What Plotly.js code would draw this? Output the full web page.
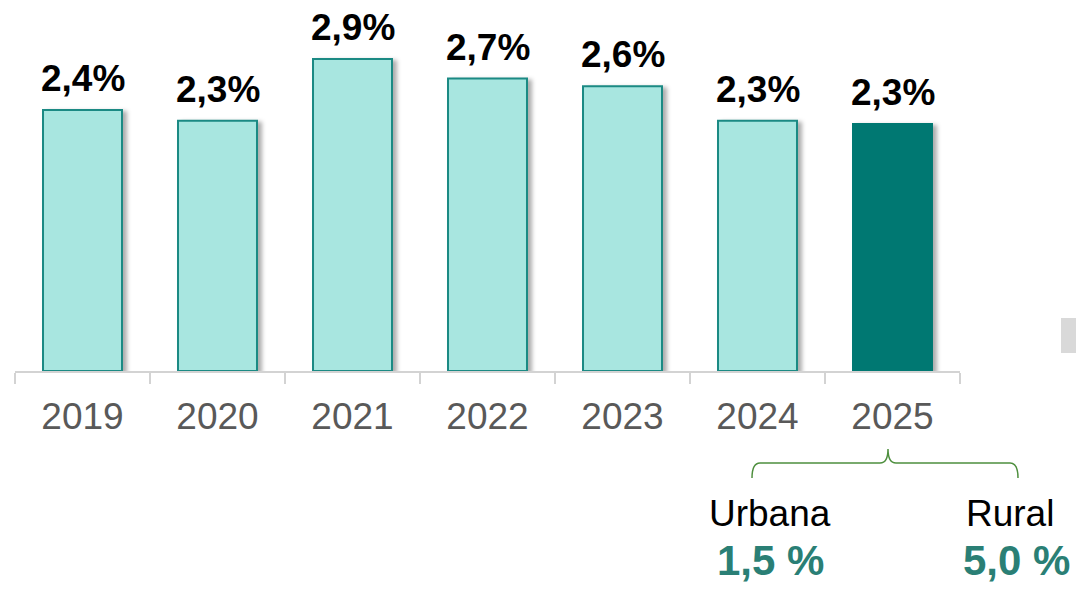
<!DOCTYPE html>
<html>
<head>
<meta charset="utf-8">
<script src="https://cdn.plot.ly/plotly-3.0.1.min.js"></script>
<style>
html,body{margin:0;padding:0;background:#fff;}
#chart{width:1076px;height:591px;}
#chart .bars .point path{filter:drop-shadow(4px 2px 2px rgba(0,0,0,0.32));}
</style>
</head>
<body>
<div id="chart"></div>
<script>
const years = ["2019","2020","2021","2022","2023","2024","2025"];
const values = [2.41, 2.31, 2.88, 2.70, 2.63, 2.31, 2.28];
const valueLabels = ["2,4%","2,3%","2,9%","2,7%","2,6%","2,3%","2,3%"];
const splitNames = ["Urbana","Rural"];
const splitLabels = ["1,5 %","5,0 %"];

const light = "#A8E6E0", lightLine = "#1B8A84", dark = "#007872";
const fillColors = years.map((y,i)=> i===years.length-1 ? dark : light);
const lineColors = years.map((y,i)=> i===years.length-1 ? dark : lightLine);

// pixel -> paper helpers (plot area: x 15..960, y 24..371)
const L=15, R=960, T=24, B=371;
const px = v => (v - L)/(R - L);
const py = v => (B - v)/(B - T);

const trace = {
  type:"bar", x:years, y:values,
  marker:{color:fillColors, line:{color:lineColors, width:2}},
  width:0.585, hoverinfo:"none"
};

// value labels anchored to each bar's category index and value
const valueAnnotations = years.map((yr,i)=>({
  x:i, y:values[i], xref:"x", yref:"y", text:"<b>"+valueLabels[i]+"</b>",
  showarrow:false, xanchor:"center", yanchor:"bottom", yshift:9,
  font:{family:"Liberation Sans, Arial, sans-serif", size:37, color:"#000"}
}));

const brace = `M ${px(752)} ${py(478)} Q ${px(752)} ${py(463)} ${px(760)} ${py(463)} L ${px(880)} ${py(463)} Q ${px(888)} ${py(463)} ${px(888)} ${py(449)} Q ${px(888)} ${py(463)} ${px(896)} ${py(463)} L ${px(1010)} ${py(463)} Q ${px(1018)} ${py(463)} ${px(1018)} ${py(478)}`;

const layout = {
  width:1076, height:591,
  margin:{l:L, r:1076-R, t:T, b:591-B, pad:0},
  paper_bgcolor:"#fff", plot_bgcolor:"#fff",
  showlegend:false,
  xaxis:{type:"category", categoryorder:"array", categoryarray:years,
         range:[-0.5, years.length-0.5], autorange:false,
         showline:true, linecolor:"#d3d3d3", linewidth:2,
         ticks:"outside", tickson:"boundaries", ticklen:11, tickcolor:"#d3d3d3", tickwidth:2,
         ticklabelstandoff:12, tickangle:0,
         tickfont:{family:"Liberation Sans, Arial, sans-serif", size:37, color:"#595959"},
         showgrid:false, zeroline:false, fixedrange:true},
  yaxis:{range:[0,3.204], autorange:false, visible:false, showgrid:false, zeroline:false, fixedrange:true},
  shapes:[
    {type:"path", xref:"paper", yref:"paper", path:brace, line:{color:"#4E8F3E", width:1.5}},
    {type:"rect", xref:"paper", yref:"paper", x0:px(1061), x1:px(1076), y0:py(353), y1:py(318),
     fillcolor:"#d9d9d9", line:{width:0}}
  ],
  annotations:valueAnnotations.concat([
    {xref:"paper", yref:"paper", x:px(770), y:py(513), text:splitNames[0], showarrow:false,
     font:{family:"Liberation Sans, Arial, sans-serif", size:37, color:"#000"}, xanchor:"center", yanchor:"middle"},
    {xref:"paper", yref:"paper", x:px(1010), y:py(513), text:splitNames[1], showarrow:false,
     font:{family:"Liberation Sans, Arial, sans-serif", size:37, color:"#000"}, xanchor:"center", yanchor:"middle"},
    {xref:"paper", yref:"paper", x:px(770), y:py(561), text:"<b>"+splitLabels[0]+"</b>", showarrow:false,
     font:{family:"Liberation Sans, Arial, sans-serif", size:42, color:"#2A7F75"}, xanchor:"center", yanchor:"middle"},
    {xref:"paper", yref:"paper", x:px(1016), y:py(561), text:"<b>"+splitLabels[1]+"</b>", showarrow:false,
     font:{family:"Liberation Sans, Arial, sans-serif", size:42, color:"#2A7F75"}, xanchor:"center", yanchor:"middle"}
  ])
};

Plotly.newPlot("chart",[trace],layout,{displayModeBar:false, staticPlot:true});
</script>
</body>
</html>
